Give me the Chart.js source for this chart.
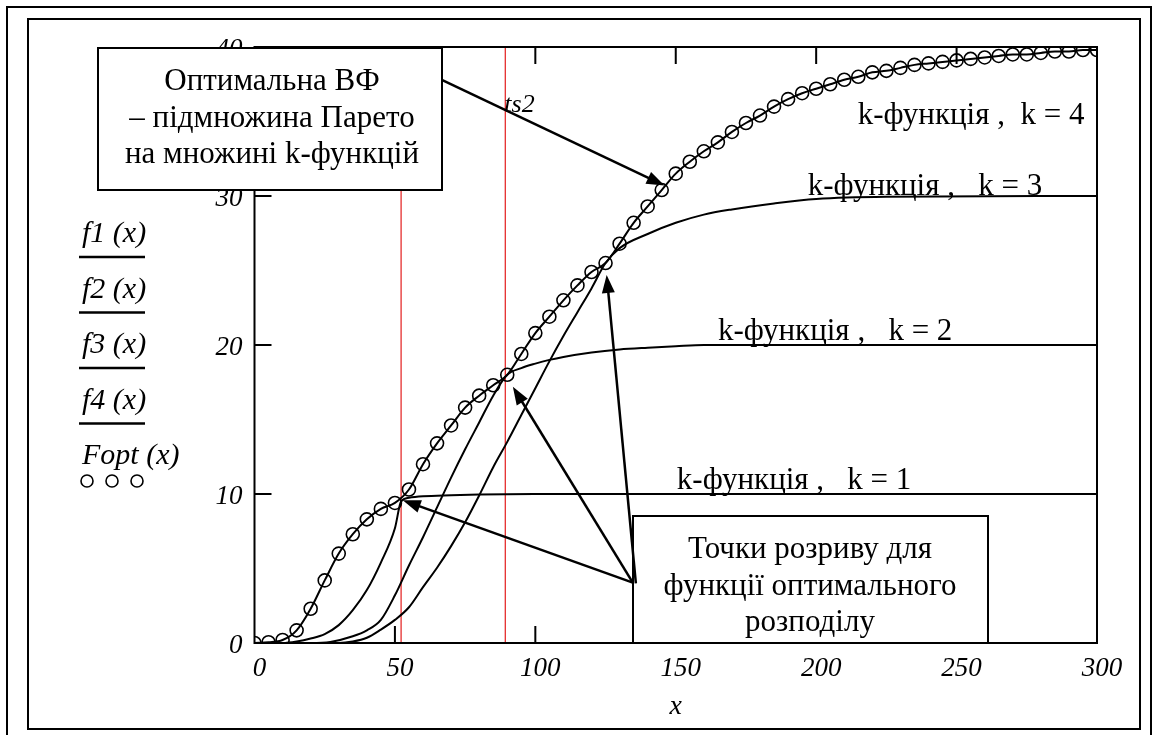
<!DOCTYPE html>
<html>
<head>
<meta charset="utf-8">
<title>k-функції та оптимальна ВФ</title>
<script src="https://cdn.jsdelivr.net/npm/chart.js@4.4.1/dist/chart.umd.min.js"></script>
<style>
  body { margin: 0; background: #fff; }
  canvas { display: block; }
</style>
</head>
<body>
<canvas id="kChart" width="1158" height="735"></canvas>
<script>
// x grid of the Fopt points (step 5)
const xGrid = [0, 5, 10, 15, 20, 25, 30, 35, 40, 45, 50, 55, 60, 65, 70, 75, 80, 85, 90, 95,
  100, 105, 110, 115, 120, 125, 130, 135, 140, 145, 150, 155, 160, 165, 170, 175, 180, 185, 190, 195,
  200, 205, 210, 215, 220, 225, 230, 235, 240, 245, 250, 255, 260, 265, 270, 275, 280, 285, 290, 295, 300];

// k = 4 curve, the envelope the circles sit on
const f4Y = [0, 0.05, 0.2, 0.85, 2.3, 4.2, 6.0, 7.3, 8.3, 9.0, 9.4, 10.3, 12.0, 13.4, 14.6, 15.8, 16.6, 17.3, 18.0, 19.4,
  20.8, 21.9, 23.0, 24.0, 24.9, 25.5, 26.8, 28.2, 29.3, 30.4, 31.5, 32.3, 33.0, 33.6, 34.3, 34.9, 35.4, 36.0, 36.5, 36.9,
  37.2, 37.5, 37.8, 38.0, 38.3, 38.4, 38.6, 38.8, 38.9, 39.0, 39.1, 39.2, 39.3, 39.4, 39.5, 39.5, 39.6, 39.7, 39.7, 39.8, 39.8];
const foptY = f4Y;

const f1X = [0, 10, 15, 20, 25, 30, 35, 40, 45, 50, 52.2, 55, 60, 70, 80, 100, 300];
const f1Y = [0, 0, 0.1, 0.3, 0.6, 1.2, 2.2, 3.55, 5.4, 7.7, 9.5, 9.75, 9.85, 9.92, 9.97, 10, 10];

const f2X = [0, 20, 27, 35, 40, 45, 50, 55, 60, 65, 70, 75, 80, 85, 90, 95, 100, 105, 110, 120, 130, 140, 150, 160, 300];
const f2Y = [0, 0, 0.07, 0.45, 0.85, 1.55, 3.2, 5.2, 7.1, 9.1, 11.1, 13.0, 14.8, 16.6, 18.0, 18.45, 18.75, 19.0, 19.2, 19.5, 19.7, 19.82, 19.92, 20, 20];

const f3X = [0, 30, 35, 40, 45, 50, 55, 60, 65, 70, 75, 80, 85, 90, 95, 100, 105, 110, 115, 120, 125, 130, 140, 150, 160, 170, 185, 200, 225, 300];
const f3Y = [0, 0, 0.1, 0.35, 0.9, 1.55, 2.4, 3.75, 5.05, 6.5, 8.1, 9.9, 11.8, 13.5, 15.3, 17.1, 18.9, 20.6, 22.2, 23.8, 25.5, 26.5, 27.45, 28.2, 28.75, 29.1, 29.5, 29.8, 29.95, 30];

const xTicks = [0, 50, 100, 150, 200, 250, 300];
const yTicks = [0, 10, 20, 30, 40];

// breakpoints ts1, ts2
const tsX = [52.2, 89.3];
const tsNames = ['ts1', 'ts2'];

const legendNames = ['f1 (x)', 'f2 (x)', 'f3 (x)', 'f4 (x)', 'Fopt (x)'];

const kNames = ['k-функція ,   k = 1', 'k-функція ,   k = 2', 'k-функція ,   k = 3', 'k-функція ,  k = 4'];
const kLabelX = [150.4, 165, 197, 214.8];
const kLabelY = [10.35, 20.35, 30.05, 34.8];

const paretoNote = ['Оптимальна ВФ', '– підмножина Парето', 'на множині k-функцій'];
const breakNote = ['Точки розриву для', 'функції оптимального', 'розподілу'];

// arrows in data units: [fromX, fromY, toX, toY]
const paretoArrow = [66.7, 37.8, 146, 30.7];
const breakArrows = [
  [134.7, 4.05, 52.8, 9.58],
  [134.7, 4.05, 92, 17.2],
  [135.8, 4.0, 125.4, 24.7]
];

const ink = '#000';
const serif = '"Liberation Serif", "Times New Roman", serif';
const tickFont = { family: serif, size: 27, style: 'italic' };

function pts(xs, ys) {
  return xs.map((x, i) => ({ x: x, y: ys[i] }));
}

function arrow(ctx, x1, y1, x2, y2) {
  const a = Math.atan2(y2 - y1, x2 - x1);
  const len = 18, half = 6.5;
  ctx.beginPath();
  ctx.moveTo(x1, y1);
  ctx.lineTo(x2 - Math.cos(a) * len * 0.8, y2 - Math.sin(a) * len * 0.8);
  ctx.stroke();
  ctx.beginPath();
  ctx.moveTo(x2, y2);
  ctx.lineTo(x2 - len * Math.cos(a) + half * Math.sin(a), y2 - len * Math.sin(a) - half * Math.cos(a));
  ctx.lineTo(x2 - len * Math.cos(a) - half * Math.sin(a), y2 - len * Math.sin(a) + half * Math.cos(a));
  ctx.closePath();
  ctx.fill();
}

function noteBox(ctx, box, lines, cx, firstBase, step) {
  ctx.fillStyle = '#fff';
  ctx.fillRect(box[0], box[1], box[2], box[3]);
  ctx.strokeStyle = ink;
  ctx.lineWidth = 2;
  ctx.strokeRect(box[0], box[1], box[2], box[3]);
  ctx.fillStyle = ink;
  ctx.font = '31px ' + serif;
  ctx.textAlign = 'center';
  ctx.textBaseline = 'alphabetic';
  lines.forEach((t, i) => ctx.fillText(t, cx, firstBase + i * step));
}

const decorations = {
  id: 'decorations',
  beforeDatasetsDraw(chart) {
    const { ctx, chartArea: a, scales: { x } } = chart;
    ctx.save();
    ctx.strokeStyle = '#e31c1c';
    ctx.lineWidth = 1.2;
    tsX.forEach(v => {
      const px = x.getPixelForValue(v);
      ctx.beginPath();
      ctx.moveTo(px, a.top);
      ctx.lineTo(px, a.bottom);
      ctx.stroke();
    });
    ctx.restore();
  },
  afterDatasetsDraw(chart) {
    const { ctx, chartArea: a, scales: { x, y } } = chart;
    ctx.save();
    ctx.strokeStyle = ink;
    ctx.fillStyle = ink;
    ctx.lineWidth = 2;
    ctx.strokeRect(a.left, a.top, a.right - a.left, a.bottom - a.top);

    // ticks point inwards on all four sides
    ctx.beginPath();
    xTicks.slice(1, -1).forEach(v => {
      const px = x.getPixelForValue(v);
      ctx.moveTo(px, a.bottom); ctx.lineTo(px, a.bottom - 17);
      ctx.moveTo(px, a.top); ctx.lineTo(px, a.top + 17);
    });
    yTicks.slice(1).forEach(v => {
      const py = y.getPixelForValue(v);
      ctx.moveTo(a.left, py); ctx.lineTo(a.left + 17, py);
      ctx.moveTo(a.right, py); ctx.lineTo(a.right - 13, py);
    });
    ctx.stroke();

    // curve names
    ctx.font = '31px ' + serif;
    ctx.textAlign = 'left';
    ctx.textBaseline = 'alphabetic';
    kNames.forEach((t, i) => {
      ctx.fillText(t, x.getPixelForValue(kLabelX[i]), y.getPixelForValue(kLabelY[i]));
    });

    // breakpoint names at the top of the red lines
    ctx.font = 'italic 26px ' + serif;
    tsNames.forEach((t, i) => {
      ctx.fillText(t, x.getPixelForValue(tsX[i]) - 1, a.top + 65);
    });

    // legend on the left
    ctx.font = 'italic 30px ' + serif;
    legendNames.forEach((t, i) => {
      const base = 242 + i * 55.5;
      ctx.fillText(t, 82, base);
      if (i < 4) {
        ctx.lineWidth = 2.5;
        ctx.beginPath();
        ctx.moveTo(79, base + 15);
        ctx.lineTo(145, base + 15);
        ctx.stroke();
      } else {
        ctx.lineWidth = 1.6;
        [87, 112, 137].forEach(cx => {
          ctx.beginPath();
          ctx.arc(cx, base + 17, 6, 0, Math.PI * 2);
          ctx.stroke();
        });
      }
    });
    ctx.restore();
  },
  afterDraw(chart) {
    const { ctx, scales: { x, y } } = chart;
    ctx.save();
    noteBox(ctx, [98, 48, 344, 142], paretoNote, 272, 90, 36.5);
    noteBox(ctx, [633, 516, 355, 127], breakNote, 810, 558, 36.5);

    ctx.strokeStyle = ink;
    ctx.fillStyle = ink;
    ctx.lineWidth = 2.5;
    [paretoArrow].concat(breakArrows).forEach(r => {
      arrow(ctx, x.getPixelForValue(r[0]), y.getPixelForValue(r[1]),
        x.getPixelForValue(r[2]), y.getPixelForValue(r[3]));
    });

    // double page frame
    ctx.lineWidth = 2;
    ctx.strokeRect(7, 7, 1144, 740);
    ctx.strokeRect(28, 19, 1112, 710);
    ctx.restore();
  }
};

const curve = (label, data) => ({
  label: label,
  data: data,
  borderColor: ink,
  borderWidth: 2,
  pointRadius: 0,
  cubicInterpolationMode: 'monotone',
  fill: false
});

new Chart(document.getElementById('kChart'), {
  type: 'line',
  data: {
    datasets: [
      curve('f1', pts(f1X, f1Y)),
      curve('f2', pts(f2X, f2Y)),
      curve('f3', pts(f3X, f3Y)),
      curve('f4', pts(xGrid, f4Y)),
      {
        label: 'Fopt',
        data: pts(xGrid, foptY),
        showLine: false,
        pointRadius: 6.5,
        pointBorderWidth: 1.6,
        pointBorderColor: ink,
        pointBackgroundColor: 'rgba(0,0,0,0)',
        clip: 0
      }
    ]
  },
  options: {
    responsive: false,
    animation: false,
    events: [],
    layout: { padding: { left: 0, top: 47, right: 61, bottom: 0 } },
    plugins: { legend: { display: false }, tooltip: { enabled: false } },
    scales: {
      x: {
        type: 'linear',
        min: 0,
        max: 300,
        afterBuildTicks: s => { s.ticks = xTicks.map(v => ({ value: v })); },
        afterFit: s => { s.height = 92; },
        ticks: { font: tickFont, color: ink, padding: 10, labelOffset: 5, maxRotation: 0, autoSkip: false },
        grid: { display: false, drawTicks: false },
        border: { display: false },
        title: { display: true, text: 'x', color: ink, font: { family: serif, size: 28, style: 'italic' }, padding: { top: 0, bottom: 12 } }
      },
      y: {
        min: 0,
        max: 40,
        afterBuildTicks: s => { s.ticks = yTicks.map(v => ({ value: v })); },
        afterFit: s => { s.width = 254.5; },
        ticks: { font: tickFont, color: ink, padding: 12, labelOffset: 3 },
        grid: { display: false, drawTicks: false },
        border: { display: false }
      }
    }
  },
  plugins: [decorations]
});
</script>
</body>
</html>
